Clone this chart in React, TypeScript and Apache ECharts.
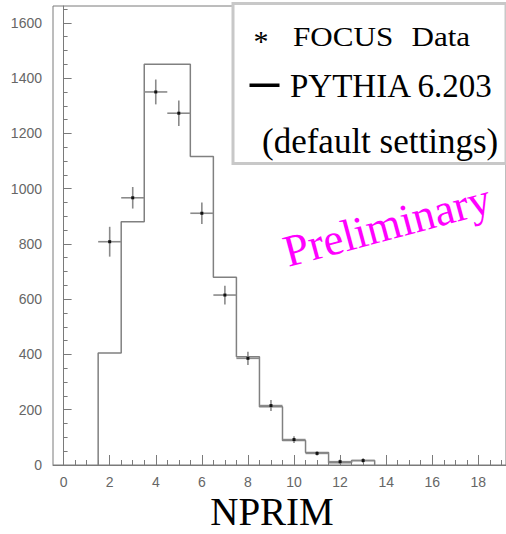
import React, { useEffect, useRef } from "react";
import * as echarts from "echarts";

// PYTHIA 6.203 histogram (bin low edges, unit width)
const binLowEdges = [1.5, 2.5, 3.5, 4.5, 5.5, 6.5, 7.5, 8.5, 9.5, 10.5, 11.5, 12.5];
const binWidth = 1;
const pythiaCounts = [405, 880, 1450, 1450, 1116, 679, 392, 211, 89, 45, 8, 16];

// FOCUS data points
const focusX = [2, 3, 4, 5, 6, 7, 8, 9, 10, 11, 12, 13];
const focusCounts = [808, 967, 1350, 1273, 911, 615, 386, 215, 92, 42, 12, 16];
const focusErrors = [54, 39, 45, 46, 39, 34, 24, 20, 12, 8, 8, 8];

// axis ticks
const xMajorTicks = [0, 2, 4, 6, 8, 10, 12, 14, 16, 18];
const xMinorTicks = [0, 0.5, 1, 1.5, 2, 2.5, 3, 3.5, 4, 4.5, 5, 5.5, 6, 6.5, 7, 7.5, 8, 8.5, 9, 9.5, 10, 10.5, 11, 11.5, 12, 12.5, 13, 13.5, 14, 14.5, 15, 15.5, 16, 16.5, 17, 17.5, 18, 18.5, 19];
const yMajorTicks = [0, 200, 400, 600, 800, 1000, 1200, 1400, 1600];
const yMinorTicks = [0, 50, 100, 150, 200, 250, 300, 350, 400, 450, 500, 550, 600, 650, 700, 750, 800, 850, 900, 950, 1000, 1050, 1100, 1150, 1200, 1250, 1300, 1350, 1400, 1450, 1500, 1550, 1600, 1650];

const X_MIN = -0.46;
const X_MAX = 19.2;
const Y_MIN = 0;
const Y_MAX = 1661;

const SANS = "'Liberation Sans', Arial, Helvetica, sans-serif";
const SERIF = "'Liberation Serif', 'Times New Roman', Times, serif";
const AXIS_COLOR = "#7a7a7a";
const LABEL_COLOR = "#666";

function buildStep(): number[][] {
  const pts: number[][] = [];
  pts.push([binLowEdges[0], 0]);
  binLowEdges.forEach((lo, i) => {
    pts.push([lo, pythiaCounts[i]]);
    pts.push([lo + binWidth, pythiaCounts[i]]);
  });
  pts.push([binLowEdges[binLowEdges.length - 1] + binWidth, 0]);
  return pts;
}

// baseline -> middle offset for 'middle' vertical align
const mid = (baseline: number, fs: number) => baseline - 0.3375 * fs;

export default function App() {
  const ref = useRef<HTMLDivElement>(null);

  useEffect(() => {
    document.body.style.margin = "0";
    if (!ref.current) return;
    const chart = echarts.init(ref.current, undefined, { renderer: "svg" });

    const option: any = {
      animation: false,
      backgroundColor: "#ffffff",
      grid: {
        left: 53,
        top: 6,
        width: 454,
        height: 459,
        show: true,
        borderColor: AXIS_COLOR,
        borderWidth: 1,
        backgroundColor: "transparent",
      },
      xAxis: [
        {
          type: "value",
          min: X_MIN,
          max: X_MAX,
          position: "bottom",
          axisLine: { show: true, lineStyle: { color: AXIS_COLOR, width: 1 } },
          axisTick: { show: true, inside: true, length: 10, customValues: xMajorTicks, lineStyle: { color: AXIS_COLOR } },
          axisLabel: {
            show: true,
            customValues: xMajorTicks,
            margin: 10,
            color: LABEL_COLOR,
            fontSize: 14,
            fontFamily: SANS,
            formatter: (v: number) => String(v),
          },
          splitLine: { show: false },
        },
        {
          type: "value",
          min: X_MIN,
          max: X_MAX,
          position: "bottom",
          axisLine: { show: false },
          axisTick: { show: true, inside: true, length: 5, customValues: xMinorTicks, lineStyle: { color: AXIS_COLOR } },
          axisLabel: { show: false },
          splitLine: { show: false },
        },
      ],
      yAxis: [
        {
          type: "value",
          min: Y_MIN,
          max: Y_MAX,
          position: "left",
          axisLine: { show: true, lineStyle: { color: AXIS_COLOR, width: 1 } },
          axisTick: { show: true, inside: true, length: 8, customValues: yMajorTicks, lineStyle: { color: AXIS_COLOR } },
          axisLabel: {
            show: true,
            customValues: yMajorTicks,
            margin: 11,
            color: LABEL_COLOR,
            fontSize: 14,
            fontFamily: SANS,
            formatter: (v: number) => String(v),
          },
          splitLine: { show: false },
        },
        {
          type: "value",
          min: Y_MIN,
          max: Y_MAX,
          position: "left",
          axisLine: { show: false },
          axisTick: { show: true, inside: true, length: 4, customValues: yMinorTicks, lineStyle: { color: AXIS_COLOR } },
          axisLabel: { show: false },
          splitLine: { show: false },
        },
      ],
      series: [
        {
          name: "PYTHIA 6.203",
          type: "line",
          xAxisIndex: 0,
          yAxisIndex: 0,
          data: buildStep(),
          symbol: "none",
          lineStyle: { color: "#808080", width: 1.5 },
          z: 2,
        },
        {
          name: "FOCUS Data",
          type: "custom",
          xAxisIndex: 0,
          yAxisIndex: 0,
          data: focusX.map((x, i) => [x, focusCounts[i], focusErrors[i]]),
          renderItem: (params: any, api: any) => {
            const x = api.value(0);
            const y = api.value(1);
            const e = api.value(2);
            const c = api.coord([x, y]);
            const l = api.coord([x - 0.5, y]);
            const r = api.coord([x + 0.5, y]);
            const t = api.coord([x, y + e]);
            const b = api.coord([x, Math.max(0, y - e)]);
            return {
              type: "group",
              children: [
                { type: "line", shape: { x1: l[0], y1: l[1], x2: r[0], y2: r[1] }, style: { stroke: "#8a8a8a", lineWidth: 1.6 } },
                { type: "line", shape: { x1: t[0], y1: t[1], x2: b[0], y2: b[1] }, style: { stroke: "#8a8a8a", lineWidth: 1.6 } },
                { type: "rect", shape: { x: c[0] - 1.5, y: c[1] - 1.5, width: 3, height: 3 }, style: { fill: "#111" } },
              ],
            };
          },
          z: 3,
        },
      ],
      graphic: [
        {
          type: "rect",
          shape: { x: 233, y: 3.5, width: 273, height: 160 },
          style: { fill: "#ffffff", stroke: "#c8c8c8", lineWidth: 3 },
          z: 10,
        },
        {
          type: "text",
          x: 261,
          y: 40,
          style: { text: "*", font: `30px ${SERIF}`, fill: "#000", align: "center", verticalAlign: "middle" },
          z: 11,
        },
        {
          type: "text",
          x: 293,
          y: mid(46, 28),
          scaleX: 1.11,
          style: { text: "FOCUS", font: `28px ${SERIF}`, fill: "#000", align: "left", verticalAlign: "middle" },
          z: 11,
        },
        {
          type: "text",
          x: 411.5,
          y: mid(46, 28),
          scaleX: 1.11,
          style: { text: "Data", font: `28px ${SERIF}`, fill: "#000", align: "left", verticalAlign: "middle" },
          z: 11,
        },
        {
          type: "rect",
          shape: { x: 249.5, y: 83.5, width: 30, height: 3.5 },
          style: { fill: "#000" },
          z: 11,
        },
        {
          type: "text",
          x: 290,
          y: mid(97, 33),
          style: { text: "PYTHIA 6.203", font: `33px ${SERIF}`, fill: "#000", align: "left", verticalAlign: "middle" },
          z: 11,
        },
        {
          type: "text",
          x: 262,
          y: mid(153, 35),
          style: { text: "(default settings)", font: `35px ${SERIF}`, fill: "#000", align: "left", verticalAlign: "middle" },
          z: 11,
        },
        {
          type: "text",
          x: 387,
          y: 225,
          rotation: (15 * Math.PI) / 180,
          style: { text: "Preliminary", font: `45px ${SERIF}`, fill: "#ff00ff", align: "center", verticalAlign: "middle" },
          z: 11,
        },
        {
          type: "text",
          x: 272,
          y: mid(525, 39),
          style: { text: "NPRIM", font: `39px ${SERIF}`, fill: "#000", align: "center", verticalAlign: "middle" },
          z: 11,
        },
      ],
    };

    chart.setOption(option);
    return () => {
      chart.dispose();
    };
  }, []);

  return (
    <div
      ref={ref}
      style={{ position: "fixed", left: 0, top: 0, width: 506, height: 534, background: "#fff" }}
    />
  );
}
